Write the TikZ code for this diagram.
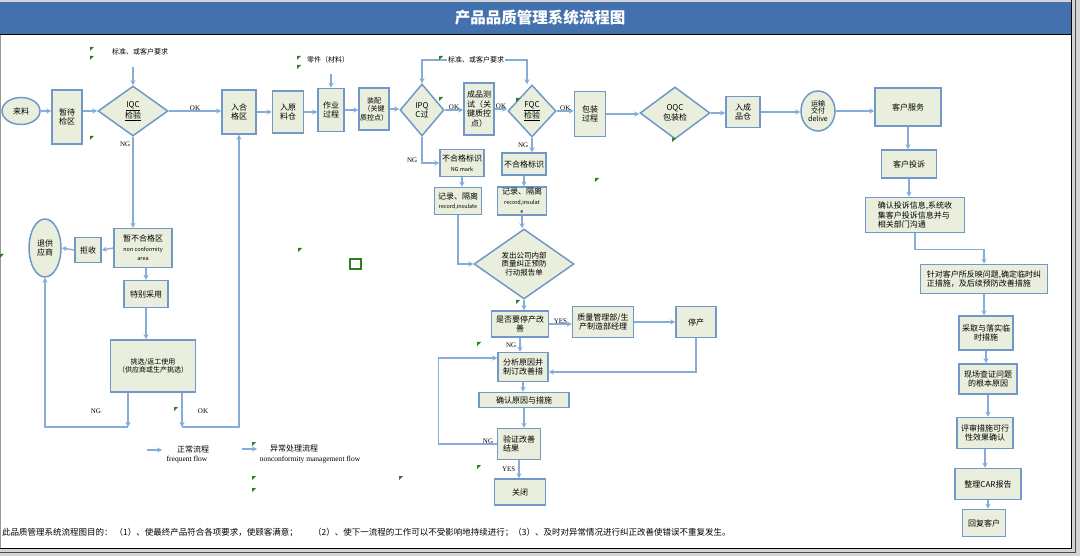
\documentclass[tikz,border=0pt]{standalone}
\usepackage{fontspec}
\setmainfont{Liberation Serif}
\newfontfamily\cjk{Noto Sans CJK SC}
\usetikzlibrary{positioning}
\usetikzlibrary{shapes.geometric}
\usetikzlibrary{arrows.meta}
\definecolor{BAR}{HTML}{4271AE}
\definecolor{EDGE}{HTML}{7198C8}
\definecolor{FILLG}{HTML}{E9EFDC}
\definecolor{LINE}{HTML}{86ACD9}
\definecolor{FLAG}{HTML}{2E7D1E}
\definecolor{FRAME}{HTML}{D4D4D4}
\newcommand\engsz{\fontsize{5.5}{6.5}\selectfont}
\tikzset{
	every node/.style = {font=\cjk\fontsize{8}{9.5}\selectfont, inner sep=1pt},
	box/.style = {draw=EDGE, fill=FILLG, line width=1.5pt, align=center},
	dia/.style = {box, diamond, aspect=1.4, inner sep=0pt},
	oval/.style = {box, ellipse, inner sep=0pt},
	flow/.style = {draw=LINE, line width=1.4pt, -{Stealth[length=5pt,width=5pt]}},
	tag/.style = {font=\rmfamily\fontsize{7}{8}\selectfont},
	note/.style = {font=\cjk\fontsize{7}{8}\selectfont}
}
\begin{document}
\begin{tikzpicture}[x=1pt, y=-1pt]
		\useasboundingbox (0,0) rectangle (1080,556);
		% frame and title
		\fill[FRAME] (0,0) rectangle (1080,556);
		\fill[white] (0,35) rectangle (1071,548);
		\fill[BAR] (0,2) rectangle (1072,34);
		\draw[black, line width=1pt] (0,35) -- (1072,35);
		\draw[black, line width=1pt] (1071,0) -- (1071,548) -- (0,548);
		\draw[black!70, line width=1pt] (1075,0) -- (1075,552) -- (0,552);
		\draw[black!40] (0.5,35) -- (0.5,548);
		\node[font=\cjk\bfseries\fontsize{15.5}{17}\selectfont, text=white] (title) at (540,18) {产品品质管理系统流程图};
		
		% main flow
		\node[oval, minimum width=38pt, minimum height=27pt] (laiLiao) at (21,111) {来料};
		\node[box, minimum width=30pt, minimum height=54pt] (zanDai) at (67,117) {暂待\\检区};
		\node[dia, minimum width=70pt, minimum height=50pt] (iqc) at (133,111) {\underline{IQC}\\\underline{检验}};
		\node[box, minimum width=34pt, minimum height=44pt] (ruHeGe) at (239,112) {入合\\格区};
		\node[box, minimum width=31pt, minimum height=42pt] (ruYuan) at (288,112) {入原\\料仓};
		\node[box, minimum width=26pt, minimum height=43pt] (zuoYe) at (331,110) {作业\\过程};
		\node[box, minimum width=28pt, minimum height=42pt, font=\cjk\fontsize{7}{8.5}\selectfont] (zhuangPei) at (374,109) {装配\\（关键\\质控点）};
		\node[dia, minimum width=44pt, minimum height=52pt] (ipqc) at (422,110) {IPQ\\C过};
		\node[box, minimum width=30pt, minimum height=52pt] (chengPin) at (479,109) {成品测\\试（关\\键质控\\点）};
		\node[dia, minimum width=48pt, minimum height=52pt] (fqc) at (532,111) {\underline{FQC}\\\underline{检验}};
		\node[box, minimum width=31pt, minimum height=45pt] (baoZhuang) at (590,114) {包装\\过程};
		\node[dia, minimum width=70pt, minimum height=52pt] (oqc) at (675,113) {OQC\\包装检};
		\node[box, minimum width=34pt, minimum height=31pt] (ruCheng) at (743,112) {入成\\品仓};
		\node[oval, minimum width=34pt, minimum height=40pt, font=\cjk\fontsize{7}{7.5}\selectfont] (yunShu) at (818,111) {运输\\交付\\delive};
		\node[note] (std1) at (140,52) {标准、或客户要求};
		\node[note] (lingJian) at (328,60) {零件（材料）};
		\node[note] (std2) at (476,60) {标准、或客户要求};
		\coordinate (iqcIn) at (133,67);
		\coordinate (zyIn) at (331,74);
		
		% customer side
		\node[box, minimum width=66pt, minimum height=38pt] (keFu) at (908,107) {客户服务};
		\node[box, minimum width=55pt, minimum height=28pt] (touSu) at (909,164) {客户投诉};
		\node[box, minimum width=99pt, minimum height=35pt, align=left] (queRen) at (915,215) {确认投诉信息,系统收\\集客户投诉信息并与\\相关部门沟通};
		\node[box, minimum width=127pt, minimum height=29pt, align=left] (zhenDui) at (984,279) {针对客户所反映问题,确定临时纠\\正措施，及后续预防改善措施};
		\node[box, minimum width=54pt, minimum height=34pt] (caiQu) at (986,333) {采取与落实临\\时措施};
		\node[box, minimum width=58pt, minimum height=30pt] (xianChang) at (988,379) {现场查证问题\\的根本原因};
		\node[box, minimum width=56pt, minimum height=31pt] (pingShen) at (985,433) {评审措施可行\\性效果确认};
		\node[box, minimum width=66pt, minimum height=31pt] (zhengLi) at (988,484) {整理CAR报告};
		\node[box, minimum width=43pt, minimum height=27pt] (huiFu) at (984,523) {回复客户};
		
		% incoming NG
		\node[box, minimum width=58pt, minimum height=39pt] (zanBuHe) at (143,248) {暂不合格区\\\engsz non conformity\\\engsz area};
		\node[box, minimum width=26pt, minimum height=25pt] (juShou) at (88,250) {拒收};
		\node[oval, minimum width=32pt, minimum height=58pt] (tuiGong) at (45,248) {退供\\应商};
		\node[box, minimum width=44pt, minimum height=27pt] (teBie) at (146,294) {特别采用};
		\node[box, minimum width=85pt, minimum height=52pt, font=\cjk\fontsize{7}{8.5}\selectfont] (tiaoXuan) at (153,366) {挑选/返工使用\\（供应商或生产挑选）};
		\coordinate (ngOut) at (128,427);
		\coordinate (okOut) at (182,427);
		
		% process NG
		\node[box, minimum width=44pt, minimum height=27pt] (ngMark1) at (462,163) {不合格标识\\\engsz NG mark};
		\node[box, minimum width=47pt, minimum height=27pt] (jiLu1) at (458,201) {记录、隔离\\\engsz record,insulate};
		\node[box, minimum width=44pt, minimum height=22pt] (ngMark2) at (524,164) {不合格标识};
		\node[box, minimum width=49pt, minimum height=27pt] (jiLu2) at (522,201) {记录、隔离\\\engsz record,insulat\\\engsz e};
		\node[dia, minimum width=100pt, minimum height=70pt, font=\cjk\fontsize{7.5}{8.5}\selectfont] (faChu) at (524,264) {发出公司内部\\质量纠正预防\\行动报告单};
		\node[box, minimum width=57pt, minimum height=26pt] (shiFou) at (520,324) {是否要停产改\\善};
		\node[box, minimum width=61pt, minimum height=31pt] (zhiLiang) at (603,322) {质量管理部/生\\产制造部经理};
		\node[box, minimum width=40pt, minimum height=31pt] (tingChan) at (696,322) {停产};
		\node[box, minimum width=50pt, minimum height=29pt] (fenXi) at (523,367) {分析原因并\\制订改善措};
		\node[box, minimum width=90pt, minimum height=15pt] (queRenYuan) at (524,400) {确认原因与措施};
		\node[box, minimum width=43pt, minimum height=31pt, align=left] (yanZheng) at (519,444) {验证改善\\结果};
		\node[box, minimum width=51pt, minimum height=26pt] (guanBi) at (520,492) {关闭};
		
		% connectors, main line
		\draw[flow] (laiLiao.east) -- (laiLiao.east -| zanDai.west);
		\draw[flow] (zanDai.east |- iqc.west) -- (iqc.west);
		\foreach \a/\b in {ruHeGe/ruYuan, ruYuan/zuoYe, zuoYe/zhuangPei, zhuangPei/ipqc, baoZhuang/oqc, oqc/ruCheng, ruCheng/yunShu, yunShu/keFu}
			\draw[flow] (\a.east) -- (\a.east -| \b.west);
		\foreach \a/\b in {iqc/ruHeGe, ipqc/chengPin, chengPin/fqc, fqc/baoZhuang}
			\draw[flow] (\a.east) -- (\a.east -| \b.west) node[tag, midway, above=-1pt] {OK};
		\draw[flow] (iqcIn) -- (iqc.north);
		\draw[flow] (zyIn) -- (zuoYe.north);
		\draw[flow] (std2.west) -| (ipqc.north);
		\draw[flow] (std2.east) -| ([xshift=-5pt]fqc.north);
		
		% connectors, customer side
		\foreach \a/\b in {keFu/touSu, touSu/queRen, zhenDui/caiQu, caiQu/xianChang, xianChang/pingShen, pingShen/zhengLi, zhengLi/huiFu}
			\draw[flow] (\a.south) -- (\a.south |- \b.north);
		\draw[flow] (queRen.south) -- ++(0,16) -| (zhenDui.north);
		
		% connectors, incoming NG
		\draw[flow] (iqc.south) -- (iqc.south |- zanBuHe.north) node[tag, pos=0.08, left=1pt] {NG};
		\draw[flow] (zanBuHe.west) -- (juShou.east);
		\draw[flow] (juShou.west) -- (tuiGong.east);
		\draw[flow] (teBie.north |- zanBuHe.south) -- (teBie.north);
		\draw[flow] (teBie.south) -- (teBie.south |- tiaoXuan.north);
		\draw[flow] (tiaoXuan.south -| ngOut) -- (ngOut);
		\draw[flow] (ngOut) -| (tuiGong.south);
		\draw[flow] (tiaoXuan.south -| okOut) -- (okOut);
		\draw[flow] (okOut) -| (ruHeGe.south);
		\node[tag] (ngA) at (96,411) {NG};
		\node[tag] (okA) at (203,411) {OK};
		
		% connectors, process NG
		\draw[flow] (ipqc.south) |- (ngMark1.west) node[tag, pos=0.45, left=3pt] {NG};
		\draw[flow] (ngMark1.south) -- (ngMark1.south |- jiLu1.north);
		\draw[flow] (jiLu1.south) |- (faChu.west);
		\draw[flow] (fqc.south) -- (fqc.south |- ngMark2.north) node[tag, midway, left=2pt] {NG};
		\foreach \a/\b in {ngMark2/jiLu2, jiLu2/faChu, faChu/shiFou, fenXi/queRenYuan, queRenYuan/yanZheng}
			\draw[flow] (\a.south) -- (\a.south |- \b.north);
		\draw[flow] (shiFou.east) -- (shiFou.east -| zhiLiang.west) node[tag, midway, above=-1pt] {YES};
		\draw[flow] (zhiLiang.east) -- (zhiLiang.east -| tingChan.west);
		\draw[flow] (tingChan.south) |- ([yshift=-5pt]fenXi.east);
		\draw[flow] (shiFou.south) -- (shiFou.south |- fenXi.north) node[tag, midway, left=2pt] {NG};
		\draw[flow] (yanZheng.west) -- ++(-58,0) node[tag, pos=0.15, above=-1pt] {NG} |- ([yshift=9pt]fenXi.west);
		\draw[flow] (yanZheng.south) -- (yanZheng.south |- guanBi.north) node[tag, midway, left=2pt] {YES};
		
		% legend
		\coordinate (lgA1) at (147,450);
		\coordinate (lgA2) at (162,450);
		\coordinate (lgB1) at (242,449);
		\coordinate (lgB2) at (257,449);
		\draw[flow] (lgA1) -- (lgA2);
		\draw[flow] (lgB1) -- (lgB2);
		\node (lgA) at (193,449) {正常流程};
		\node[tag, font=\rmfamily\fontsize{7.5}{8}\selectfont] (lgAe) at (187,460) {frequent flow};
		\node (lgB) at (294,448) {异常处理流程};
		\node[tag, font=\rmfamily\fontsize{7.5}{8}\selectfont] (lgBe) at (310,460) {nonconformity management flow};
		
		% purpose
		\node[anchor=west, font=\cjk\fontsize{8.5}{9}\selectfont] (aim1) at (1,533) {此品质管理系统流程图目的： （1）、使最终产品符合各项要求，使顾客满意；};
		\node[anchor=west, font=\cjk\fontsize{8.5}{9}\selectfont] (aim2) at (312,533) {（2）、使下一流程的工作可以不受影响地持续进行；（3）、及时对异常情况进行纠正改善使错误不重复发生。};
		
		% comment marks
		\foreach \p in {(90,47),(90,56),(90,136),(297,56),(297,65),(439,56),(439,97),(516,98),(672,138),(595,178),(298,248),(516,300),(477,342),(477,465),(399,476),(174,407),(252,442),(252,476),(252,488),(0,254)}
			\fill[FLAG] \p -- ++(4,0) -- ++(-4,4) -- cycle;
		\draw[FLAG, line width=1.6pt] (350,259) rectangle (361,269);
	\end{tikzpicture}
\end{document}
